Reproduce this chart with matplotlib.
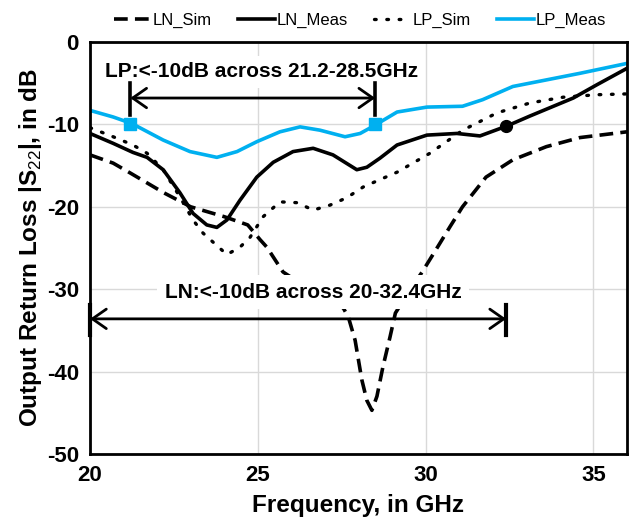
import matplotlib
matplotlib.use("Agg")
import matplotlib.pyplot as plt

plt.rcParams['font.family'] = ['Liberation Sans', 'DejaVu Sans']
plt.rcParams['mathtext.fontset'] = 'custom'
plt.rcParams['mathtext.rm'] = 'Liberation Sans'
plt.rcParams['mathtext.bf'] = 'Liberation Sans:bold'
plt.rcParams['axes.unicode_minus'] = False

# ---------------- data ----------------
ln_sim_f = [20.0, 20.69, 21.2, 21.7, 22.2, 23.0, 24.0, 24.7, 25.07, 25.27, 25.75,
            26.6, 27.2, 27.55, 27.7, 27.9, 28.1, 28.25, 28.4, 28.55, 28.73, 28.94,
            29.1, 29.5, 29.9, 30.34, 30.73, 31.1, 31.8, 32.6, 33.6, 34.6, 36.0]
ln_sim_db = [-13.7, -14.7, -15.9, -17.1, -18.3, -20.0, -21.2, -22.2, -24.0, -24.9, -27.9,
             -30.2, -31.4, -32.3, -33.4, -36.2, -41.0, -43.5, -44.7, -43.0, -39.4, -35.8,
             -32.9, -30.3, -27.9, -25.0, -22.4, -20.0, -16.4, -14.3, -12.7, -11.6, -10.9]

ln_meas_f = [20.0, 20.69, 21.28, 21.7, 22.18, 22.68, 23.07, 23.48, 23.78, 24.08, 24.47,
             24.97, 25.46, 26.05, 26.65, 27.24, 27.95, 28.25, 28.64, 29.15, 30.04,
             30.93, 31.62, 32.42, 33.1, 34.4, 35.1, 36.0]
ln_meas_db = [-11.1, -12.3, -13.4, -14.0, -15.5, -18.3, -20.8, -22.2, -22.5, -21.6, -19.2,
              -16.4, -14.6, -13.3, -12.9, -13.7, -15.5, -15.2, -14.1, -12.5, -11.3,
              -11.1, -11.4, -10.2, -9.0, -6.8, -5.2, -3.2]

lp_sim_f = [20.0, 20.69, 21.28, 21.7, 22.18, 22.68, 23.07, 23.37, 23.67, 24.08, 24.47,
            24.77, 25.16, 25.66, 26.17, 26.65, 27.15, 27.65, 28.14, 28.64, 29.15,
            30.13, 31.11, 32.13, 33.11, 34.1, 35.1, 36.0]
lp_sim_db = [-10.4, -11.5, -12.5, -13.5, -15.5, -18.8, -21.6, -23.2, -24.3, -25.8, -24.9,
             -23.7, -21.2, -19.4, -19.5, -20.4, -19.8, -18.9, -17.6, -16.7, -15.8,
             -13.5, -10.7, -8.6, -7.4, -6.7, -6.4, -6.3]

lp_meas_f = [20.0, 20.69, 21.25, 22.18, 22.98, 23.78, 24.38, 24.97, 25.66, 26.26, 26.85,
             27.6, 28.05, 28.45, 29.15, 30.04, 31.1, 31.7, 32.6, 33.6, 34.6, 36.0]
lp_meas_db = [-8.3, -9.1, -9.9, -11.9, -13.3, -14.0, -13.3, -12.1, -10.9, -10.3, -10.7,
              -11.5, -11.1, -10.2, -8.5, -7.9, -7.8, -7.0, -5.4, -4.6, -3.8, -2.6]

lp_band = (21.2, 28.5)        # GHz, LP < -10 dB
ln_band = (20.0, 32.4)        # GHz, LN < -10 dB
lp_marker_db = [-10.0, -10.0]
ln_marker_db = -10.2

x_ticks = [20, 25, 30, 35]
y_ticks = [0, -10, -20, -30, -40, -50]

lp_text = "LP:<-10dB across 21.2-28.5GHz"
ln_text = "LN:<-10dB across 20-32.4GHz"

blue = '#00B0F0'

# ---------------- figure ----------------
fig = plt.figure(figsize=(6.32, 5.21), dpi=100)
ax = fig.add_axes([0.1424, 0.1286, 0.8496, 0.7908])

l1, = ax.plot(ln_sim_f, ln_sim_db, color='black', lw=2.6, ls=(0, (3.8, 2.0)), label='LN_Sim', zorder=3)
l2, = ax.plot(ln_meas_f, ln_meas_db, color='black', lw=2.6, label='LN_Meas', zorder=3)
l3, = ax.plot(lp_sim_f, lp_sim_db, color='black', lw=2.4, ls=(0, (0.5, 3.2)),
              dash_capstyle='round', label='LP_Sim', zorder=3)
l4, = ax.plot(lp_meas_f, lp_meas_db, color=blue, lw=2.6, label='LP_Meas', zorder=3)

# markers
ax.plot(list(lp_band), lp_marker_db, ls='none', marker='s', ms=9, color=blue, zorder=6)
ax.plot([ln_band[1]], [ln_marker_db], ls='none', marker='o', ms=8.5, color='black', zorder=6)

ax.set_xlim(20, 36)
ax.set_ylim(-50, 0)
ax.set_xticks(x_ticks)
ax.set_yticks(y_ticks)
ax.grid(True, color='#d9d9d9', lw=1.0)
ax.set_axisbelow(True)
ax.tick_params(length=0, labelsize=16, pad=8)
for lab in ax.get_xticklabels() + ax.get_yticklabels():
    lab.set_fontweight('bold')
for s in ax.spines.values():
    s.set_linewidth(2.0)
    s.set_zorder(10)

ax.set_xlabel('Frequency, in GHz', fontsize=17.5, fontweight='bold', labelpad=6)
ax.set_ylabel(r'Output Return Loss |S$_{\mathrm{22}}$|, in dB', fontsize=17.5,
              fontweight='bold', labelpad=2)

# annotations
ax.text(25.12, -3.64, lp_text, fontsize=15, fontweight='bold', ha='center', va='center',
        zorder=5, bbox=dict(boxstyle='square,pad=0.3', fc='white', ec='none'))
ax.text(26.65, -30.35, ln_text, fontsize=15, fontweight='bold', ha='center', va='center',
        zorder=5, bbox=dict(boxstyle='square,pad=0.35', fc='white', ec='none'))

arrow_kw = dict(arrowstyle='<->,head_length=0.5,head_width=0.35', lw=2.0, color='black',
                shrinkA=0, shrinkB=0, mutation_scale=20)
ax.annotate('', xy=(lp_band[0], -6.8), xytext=(lp_band[1], -6.8), arrowprops=arrow_kw, zorder=7)
ax.annotate('', xy=(ln_band[0], -33.6), xytext=(ln_band[1], -33.6), arrowprops=arrow_kw, zorder=7)
for xb in lp_band:
    ax.plot([xb, xb], [-5.0, -8.8], color='black', lw=2.6, zorder=7, clip_on=False)
for xb in ln_band:
    ax.plot([xb, xb], [-31.9, -35.6], color='black', lw=3.0, zorder=11, clip_on=False)

fig.legend(handles=[l1, l2, l3, l4], loc='center', bbox_to_anchor=(360 / 632, 1 - 20 / 521),
           ncol=4, frameon=False, prop={'family': ['Liberation Sans'], 'size': 12},
           handlelength=2.2, handletextpad=0.1, columnspacing=1.6, borderpad=0)

fig.savefig('out.png', dpi=100)
